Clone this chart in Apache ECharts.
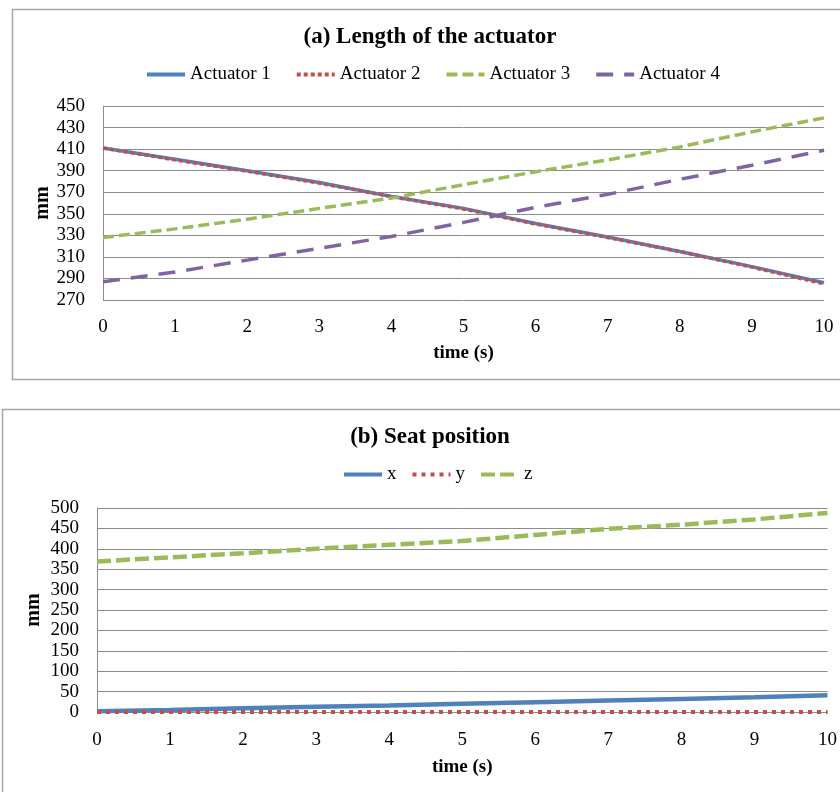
<!DOCTYPE html>
<html>
<head>
<meta charset="utf-8">
<script src="https://cdn.jsdelivr.net/npm/echarts@6/dist/echarts.min.js"></script>
<style>
html,body{margin:0;padding:0;background:#fff;}
#chart{width:840px;height:792px;}
</style>
</head>
<body>
<div id="chart"></div>
<script>
// ---- data ----
const timeS = [0, 1, 2, 3, 4, 5, 6, 7, 8, 9, 10];
const actuator1 = [411, 400.5, 390, 379, 366, 355, 341, 328.5, 315, 301, 286];
const actuator2 = [411, 400, 389.5, 378.5, 366, 354.5, 340.5, 328, 315, 300.5, 285];
const actuator3 = [328, 336, 345, 355, 364.5, 377, 389, 400, 412, 426, 439];
const actuator4 = [287, 296, 307, 318, 329, 342, 356, 368, 382, 395, 409];
const seatX = [2, 5, 9, 13, 16, 20, 24, 28, 32, 36, 41];
const seatY = [0, 0, 0, 0, 0, 0, 0, 0, 0, 0, 0];
const seatZ = [369, 379, 389, 400, 410, 419, 434, 449, 459, 472, 488];
const xTicks = [0, 1, 2, 3, 4, 5, 6, 7, 8, 9, 10];
const yTicksA = [270, 290, 310, 330, 350, 370, 390, 410, 430, 450];
const yTicksB = [0, 50, 100, 150, 200, 250, 300, 350, 400, 450, 500];
const seriesNamesA = ['Actuator 1', 'Actuator 2', 'Actuator 3', 'Actuator 4'];
const seriesNamesB = ['x', 'y', 'z'];
const titleA = '(a) Length of the actuator';
const titleB = '(b) Seat position';

// ---- build ----
const pairs = (xs, ys) => xs.map((x, i) => [x, ys[i]]);
const FONT = 'Liberation Serif, Times New Roman, serif';
const BLUE = '#4F81BD', RED = '#C0504D', GREEN = '#9BBB59', PURPLE = '#8064A2';
const GRID_COLOR = '#8c8c8c';

function xAxisFor(gi, gap, margin) {
  return {
    type: 'value', gridIndex: gi,
    min: xTicks[0], max: xTicks[xTicks.length - 1], interval: xTicks[1] - xTicks[0],
    name: 'time (s)', nameLocation: 'middle', nameGap: gap, nameMoveOverlap: false,
    nameTextStyle: { fontFamily: FONT, fontSize: 19, fontWeight: 'bold', color: '#000' },
    axisLine: { show: false },
    axisTick: { show: false },
    splitLine: { show: false },
    axisLabel: { fontFamily: FONT, fontSize: 19, color: '#000', margin }
  };
}
function yAxisFor(gi, ticks, gap) {
  return {
    type: 'value', gridIndex: gi,
    min: ticks[0], max: ticks[ticks.length - 1], interval: ticks[1] - ticks[0],
    name: 'mm', nameLocation: 'middle', nameGap: gap, nameRotate: 90, nameMoveOverlap: false,
    nameTextStyle: { fontFamily: FONT, fontSize: 20, fontWeight: 'bold', color: '#000' },
    axisLine: { show: true, lineStyle: { color: GRID_COLOR, width: 1 } },
    axisTick: { show: false },
    splitLine: { show: true, lineStyle: { color: GRID_COLOR, width: 1 } },
    axisLabel: { fontFamily: FONT, fontSize: 19, color: '#000', margin: 18 }
  };
}
function line(name, xi, data, color, width, type) {
  return {
    name, type: 'line', xAxisIndex: xi, yAxisIndex: xi,
    data, symbol: 'none', showSymbol: false, smooth: false,
    lineStyle: { color, width, type, cap: 'butt' },
    itemStyle: { color },
    emphasis: { disabled: true }, silent: true
  };
}
const legendBase = {
  itemWidth: 38, itemHeight: 14, selectedMode: false,
  itemStyle: { opacity: 0 },
  lineStyle: { width: 4 },
  textStyle: { fontFamily: FONT, fontSize: 19, color: '#000' }
};

const option = {
  animation: false,
  backgroundColor: '#fff',
  title: [
    { text: titleA, left: 425, top: 21, textAlign: 'center',
      textStyle: { fontFamily: FONT, fontSize: 23, fontWeight: 'bold', color: '#000' } },
    { text: titleB, left: 425, top: 421, textAlign: 'center',
      textStyle: { fontFamily: FONT, fontSize: 23, fontWeight: 'bold', color: '#000' } }
  ],
  legend: [
    Object.assign({ data: seriesNamesA, left: 140, top: 60, itemGap: 24 }, legendBase),
    Object.assign({ data: seriesNamesB, left: 337, top: 460, itemGap: 14 }, legendBase)
  ],
  grid: [
    { left: 103, right: 16, top: 106, height: 194 },
    { left: 97, right: 8, top: 508, height: 204 }
  ],
  xAxis: [xAxisFor(0, 44, 18), xAxisFor(1, 46, 19)],
  yAxis: [yAxisFor(0, yTicksA, 50), yAxisFor(1, yTicksB, 53)],
  series: [
    line(seriesNamesA[0], 0, pairs(timeS, actuator1), BLUE, 3.5, 'solid'),
    line(seriesNamesA[1], 0, pairs(timeS, actuator2), RED, 3.5, [4, 3]),
    line(seriesNamesA[2], 0, pairs(timeS, actuator3), GREEN, 3.5, [11, 5]),
    line(seriesNamesA[3], 0, pairs(timeS, actuator4), PURPLE, 3.5, [17, 11]),
    line(seriesNamesB[0], 1, pairs(timeS, seatX), BLUE, 4.5, 'solid'),
    line(seriesNamesB[1], 1, pairs(timeS, seatY), RED, 4, [4, 5]),
    line(seriesNamesB[2], 1, pairs(timeS, seatZ), GREEN, 4.5, [14, 5])
  ],
  graphic: [
    { type: 'rect', shape: { x: 12.5, y: 9.5, width: 840, height: 370 },
      style: { fill: 'none', stroke: '#a6a6a6', lineWidth: 1.5 }, silent: true, z: -1 },
    { type: 'rect', shape: { x: 2.5, y: 409.5, width: 850, height: 420 },
      style: { fill: 'none', stroke: '#a6a6a6', lineWidth: 1.5 }, silent: true, z: -1 }
  ]
};

const chart = echarts.init(document.getElementById('chart'), null, { renderer: 'canvas' });
chart.setOption(option);
</script>
</body>
</html>
